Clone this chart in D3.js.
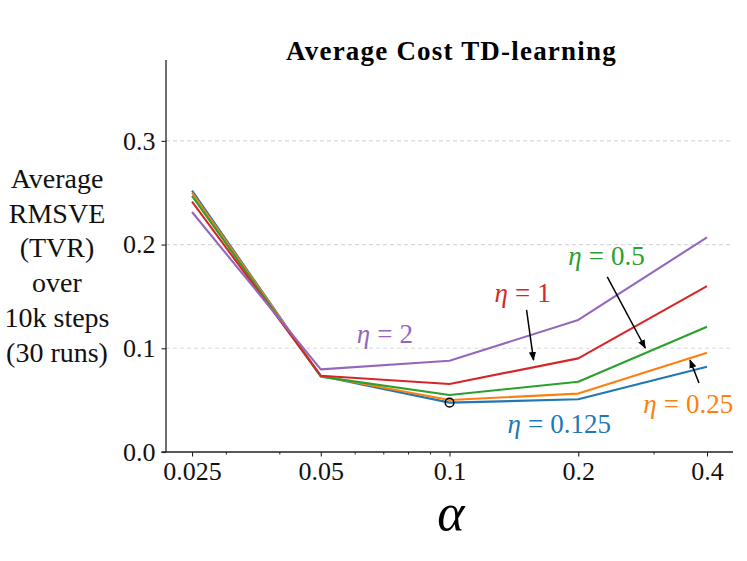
<!DOCTYPE html>
<html>
<head>
<meta charset="utf-8">
<script src="https://cdn.jsdelivr.net/npm/d3@7"></script>
<style>
  html, body { margin: 0; padding: 0; background: #fff; }
  svg { display: block; }
</style>
</head>
<body>
<svg id="chart" width="747" height="561"></svg>
<script>
// ---- data ----
const alphas = [0.025, 0.05, 0.1, 0.2, 0.4];
const xTickLabels = ["0.025", "0.05", "0.1", "0.2", "0.4"];
const xMinorTicks = [0.03, 0.04, 0.06, 0.07, 0.08, 0.09, 0.3];
const yTicks = [0.0, 0.1, 0.2, 0.3];
const yTickLabels = ["0.0", "0.1", "0.2", "0.3"];
const etaNames = ["0.125", "0.25", "0.5", "1", "2"];
const eta0125 = [0.252, 0.0733, 0.0476, 0.0508, 0.0823];
const eta025  = [0.250, 0.0733, 0.0501, 0.0563, 0.0958];
const eta05   = [0.247, 0.0727, 0.0550, 0.0678, 0.1208];
const eta1    = [0.2414, 0.0736, 0.0656, 0.0903, 0.1600];
const eta2    = [0.2314, 0.0797, 0.0880, 0.1273, 0.2070];
const titleText = "Average Cost TD-learning";
const yLabelLines = ["Average", "RMSVE", "(TVR)", "over", "10k steps", "(30 runs)"];

// annotation anchors in data coordinates
const labelPos = [[0.1367, 0.0183], [0.2839, 0.0376], [0.1895, 0.1803], [0.1274, 0.1446], [0.0607, 0.1051]];
const arrows = [
  { from: [0.3831, 0.0665], to: [0.365, 0.0887] },
  { from: [0.2338, 0.1688], to: [0.2869, 0.1003] },
  { from: [0.1514, 0.1370], to: [0.1572, 0.0887] }
];
const minPoint = [0.1, 0.0476];

// ---- layout ----
const colors = ["#1f77b4", "#ff7f0e", "#2ca02c", "#d62728", "#9467bd"];
const series = [eta0125, eta025, eta05, eta1, eta2];
const L = 166, R = 733, T = 60, B = 452;
const FONT = "'Liberation Serif', 'Times New Roman', 'DejaVu Serif', serif";

const svg = d3.select("#chart");
const x = d3.scaleLog().base(2).domain([0.02173, 0.4601]).range([L, R]);
const y = d3.scaleLinear().domain([0, 0.378]).range([B, T]);

// grid
svg.append("g").selectAll("line").data(yTicks.filter(d => d > 0)).join("line")
  .attr("x1", L).attr("x2", R)
  .attr("y1", d => y(d)).attr("y2", d => y(d))
  .attr("stroke", "#d9d9d9").attr("stroke-width", 1.1)
  .attr("stroke-dasharray", "4,3");

// x axis (major + minor)
const xAxisMajor = d3.axisBottom(x).tickValues(alphas)
  .tickFormat((d, i) => xTickLabels[i]).tickSize(4.5).tickPadding(5);
const xAxisMinor = d3.axisBottom(x).tickValues(xMinorTicks)
  .tickFormat("").tickSize(2.5);
const gxm = svg.append("g").attr("transform", `translate(0,${B})`).call(xAxisMinor);
gxm.select(".domain").remove();
gxm.selectAll("line").attr("stroke", "#222").attr("stroke-width", 1);
const gx = svg.append("g").attr("transform", `translate(0,${B})`).call(xAxisMajor);
gx.select(".domain").remove();
gx.selectAll("line").attr("stroke", "#222").attr("stroke-width", 1.1);
gx.selectAll("text").attr("font-family", FONT).attr("font-size", 26).attr("fill", "#111");

// y axis
const yAxis = d3.axisLeft(y).tickValues(yTicks)
  .tickFormat((d, i) => yTickLabels[i]).tickSize(4.5).tickPadding(6);
const gy = svg.append("g").attr("transform", `translate(${L},0)`).call(yAxis);
gy.select(".domain").remove();
gy.selectAll("line").attr("stroke", "#222").attr("stroke-width", 1.1);
gy.selectAll("text").attr("font-family", FONT).attr("font-size", 26).attr("fill", "#111");

// spines
svg.append("line").attr("x1", L).attr("x2", L).attr("y1", T).attr("y2", B)
  .attr("stroke", "#222").attr("stroke-width", 1.3);
svg.append("line").attr("x1", L - 4.5).attr("x2", R).attr("y1", B).attr("y2", B)
  .attr("stroke", "#222").attr("stroke-width", 1.3);

// lines
const line = d3.line().x((d, i) => x(alphas[i])).y(d => y(d));
svg.append("g").selectAll("path").data(series).join("path")
  .attr("d", d => line(d))
  .attr("fill", "none")
  .attr("stroke", (d, i) => colors[i])
  .attr("stroke-width", 2.1)
  .attr("stroke-linejoin", "round");

// min marker
svg.append("circle").attr("cx", x(minPoint[0])).attr("cy", y(minPoint[1]))
  .attr("r", 4.3).attr("fill", "none").attr("stroke", "#000").attr("stroke-width", 1.5);

// arrows
svg.append("defs").append("marker")
  .attr("id", "ah").attr("viewBox", "0 0 10 10").attr("refX", 9).attr("refY", 5)
  .attr("markerWidth", 9).attr("markerHeight", 9).attr("markerUnits", "userSpaceOnUse")
  .attr("orient", "auto")
  .append("path").attr("d", "M0,1 L10,5 L0,9 z").attr("fill", "#000");
svg.append("g").selectAll("line").data(arrows).join("line")
  .attr("x1", d => x(d.from[0])).attr("y1", d => y(d.from[1]))
  .attr("x2", d => x(d.to[0])).attr("y2", d => y(d.to[1]))
  .attr("stroke", "#000").attr("stroke-width", 1.5)
  .attr("marker-end", "url(#ah)");

// eta labels
etaNames.forEach((name, i) => {
  const t = svg.append("text")
    .attr("x", x(labelPos[i][0])).attr("y", y(labelPos[i][1]))
    .attr("font-family", FONT).attr("font-size", 27).attr("fill", colors[i]);
  t.append("tspan").attr("font-style", "italic").text("η");
  t.append("tspan").attr("dx", 7).text("=");
  t.append("tspan").attr("dx", 7).text(name);
});

// title
svg.append("text").attr("x", (L + R) / 2 + 2).attr("y", 60)
  .attr("text-anchor", "middle").attr("font-family", FONT)
  .attr("font-weight", "bold").attr("font-size", 27).attr("letter-spacing", 1.2)
  .attr("fill", "#000").text(titleText);

// y label
svg.append("g").selectAll("text").data(yLabelLines).join("text")
  .attr("x", 57).attr("y", (d, i) => 188 + i * 34.7)
  .attr("text-anchor", "middle").attr("font-family", FONT)
  .attr("font-size", 28).attr("fill", "#111").text(d => d);

// x label
svg.append("text").attr("x", 451).attr("y", 530)
  .attr("text-anchor", "middle").attr("font-family", FONT)
  .attr("font-style", "italic").attr("font-size", 52).attr("fill", "#000").text("α");
</script>
</body>
</html>
